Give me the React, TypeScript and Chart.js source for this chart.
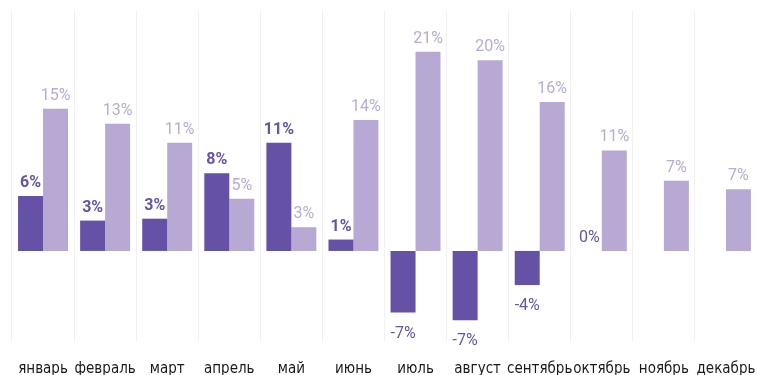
import React, { useEffect, useRef } from "react";
import { Chart, registerables } from "chart.js";

Chart.register(...registerables);

const categories = ["январь", "февраль", "март", "апрель", "май", "июнь", "июль", "август", "сентябрь", "октябрь", "ноябрь", "декабрь"];
const darkValues: (number | null)[] = [5.8, 3.2, 3.4, 8.2, 11.4, 1.2, -6.5, -7.3, -3.6, 0, null, null];
const darkLabels = ["6%", "3%", "3%", "8%", "11%", "1%", "-7%", "-7%", "-4%", "0%", "", ""];
const lightValues: number[] = [15.0, 13.4, 11.4, 5.5, 2.5, 13.8, 21.0, 20.1, 15.7, 10.6, 7.4, 6.5];
const lightLabels = ["15%", "13%", "11%", "5%", "3%", "14%", "21%", "20%", "16%", "11%", "7%", "7%"];

const DARK = "#6551a5";
const LIGHT = "#b7a9d4";
const DARK_TEXT = "#6654a8";
const LIGHT_TEXT = "#b8abd6";

const labelPlugin = {
  id: "valueLabels",
  afterDatasetsDraw(chart: any) {
    const ctx = chart.ctx;
    ctx.save();
    ctx.textAlign = "center";
    chart.data.datasets.forEach((ds: any, di: number) => {
      const meta = chart.getDatasetMeta(di);
      const labels: string[] = ds.valueLabels;
      meta.data.forEach((el: any, i: number) => {
        const v = ds.data[i];
        const text = labels[i];
        if (v === null || v === undefined || !text) return;
        const isDark = di === 0;
        const bold = isDark && v > 0;
        ctx.font = `${bold ? "700" : "400"} 16px Roboto, sans-serif`;
        ctx.fillStyle = isDark ? DARK_TEXT : LIGHT_TEXT;
        if (v >= 0) {
          ctx.textBaseline = "alphabetic";
          ctx.fillText(text, el.x, el.y - 9);
        } else {
          ctx.textBaseline = "top";
          ctx.fillText(text, el.x, el.y + 13);
        }
      });
    });
    ctx.restore();
  },
};

export default function App() {
  const ref = useRef<HTMLCanvasElement | null>(null);
  useEffect(() => {
    document.body.style.margin = "0";
    const canvas = ref.current;
    if (!canvas) return;
    const chart = new Chart(canvas, {
      type: "bar",
      data: {
        labels: categories,
        datasets: [
          {
            data: darkValues,
            backgroundColor: DARK,
            categoryPercentage: 0.805,
            barPercentage: 1,
            valueLabels: darkLabels,
          } as any,
          {
            data: lightValues,
            backgroundColor: LIGHT,
            categoryPercentage: 0.805,
            barPercentage: 1,
            valueLabels: lightLabels,
          } as any,
        ],
      },
      options: {
        animation: false,
        responsive: false,
        maintainAspectRatio: false,
        layout: { padding: { left: 12, right: 0, top: 10, bottom: 0 } },
        plugins: { legend: { display: false }, tooltip: { enabled: false } },
        scales: {
          x: {
            grid: { color: "#f1f1f1", drawTicks: false, offset: true },
            border: { display: false },
            afterFit: (scale: any) => {
              scale.height = 33;
              scale.paddingRight = 0;
              scale.paddingLeft = 0;
            },
            ticks: {
              color: "#1a1a1a",
              padding: 18,
              maxRotation: 0,
              minRotation: 0,
              autoSkip: false,
              font: { family: "'DejaVu Sans Condensed', 'DejaVu Sans', sans-serif", size: 15 },
            },
          },
          y: {
            min: -9.6,
            max: 25.4,
            grid: {
              drawTicks: false,
              color: (c: any) => (c.tick && c.tick.value === 0 ? "#ececec" : "rgba(0,0,0,0)"),
            },
            border: { display: false },
            afterFit: (scale: any) => {
              scale.width = 0;
            },
            ticks: { display: false, stepSize: 1 },
          },
        },
      },
      plugins: [labelPlugin],
    });
    return () => chart.destroy();
  }, []);
  return <canvas ref={ref} width={757} height={375} style={{ display: "block", width: 757, height: 375 }} />;
}
